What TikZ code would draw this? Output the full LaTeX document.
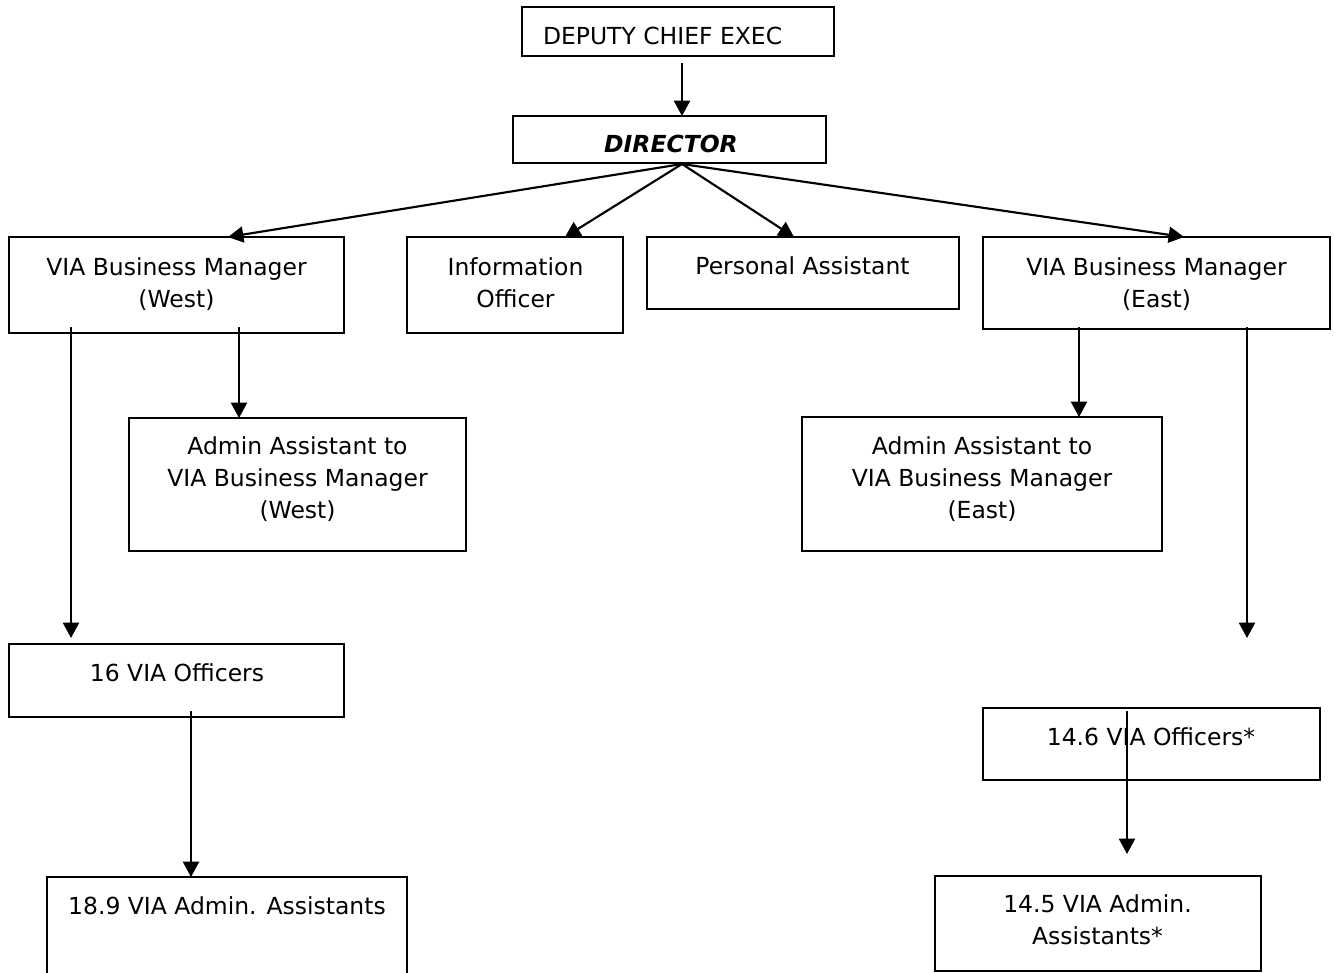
\documentclass[tikz,border=0pt]{standalone}
\usepackage{fontspec}
\setmainfont{DejaVu Sans}
\usetikzlibrary{arrows.meta,calc}
\newcommand\orgbox[5]{\node[box,minimum width={(#4-#2)*0.75pt},minimum height={(#5-#3)*0.75pt}] (#1) at ({(#2+#4)/2},{(#3+#5)/2}) {};}
\begin{document}
\begin{tikzpicture}[x=0.75pt,y=-0.75pt,
  box/.style={draw=black,line width=1.6pt,inner sep=0pt,outer sep=0pt,rectangle},
  txt/.style={inner sep=0pt,outer sep=0pt,align=center,anchor=base,font=\fontsize{17.6}{24}\selectfont},
  arr/.style={line width=1.6pt,-{Triangle[width=12pt,length=11.5pt]}}]
\useasboundingbox (0,0) rectangle (1334,972);
% boxes
\orgbox{dce}{522}{7}{834}{56}
\orgbox{dir}{513}{116}{826}{163}
\orgbox{wbm}{9}{237}{344}{333}
\orgbox{info}{407}{237}{623}{333}
\orgbox{pa}{647}{237}{959}{309}
\orgbox{ebm}{983}{237}{1330}{329}
\orgbox{waa}{129}{418}{466}{551}
\orgbox{eaa}{802}{417}{1162}{551}
\orgbox{wvo}{9}{644}{344}{717}
\orgbox{wva}{47}{877}{407}{985}
\orgbox{evo}{983}{708}{1320}{780}
\orgbox{eva}{935}{876}{1261}{971}
% texts (multi-line nodes are placed by the baseline of their last line)
\node[txt,anchor=base west] (dce-t) at (543,44.5) {DEPUTY CHIEF EXEC};
\node[txt] (dir-t) at (671,152.5) {\bfseries\itshape DIRECTOR};
\node[txt] (wbm-t) at (176.5,307.5) {VIA Business Manager\\(West)};
\node[txt] (info-t) at (515.5,307) {Information\\Officer};
\node[txt] (pa-t) at (802.5,274.5) {Personal Assistant};
\node[txt] (ebm-t) at (1156.5,307.5) {VIA Business Manager\\(East)};
\node[txt] (waa-t) at (297.5,518.5) {Admin Assistant to\\VIA Business Manager\\(West)};
\node[txt] (eaa-t) at (982,518.5) {Admin Assistant to\\VIA Business Manager\\(East)};
\node[txt] (wvo-t) at (177,681.5) {16 VIA Officers};
\node[txt] (wva-t) at (227,914) {18.9 VIA Admin. Assistants};
\node[txt] (evo-t) at (1151,745) {14.6 VIA Officers*};
\node[txt] (eva-t) at (1097.5,944) {14.5 VIA Admin.\\Assistants*};
% connector points
\coordinate (dtop) at (682,63);
\coordinate (apex) at (682,164);
\coordinate (wl1) at (71,327);
\coordinate (wl2) at (71,638);
\coordinate (wr1) at (239,327);
\coordinate (el1) at (1079,327);
\coordinate (er1) at (1247,327);
\coordinate (er2) at (1247,638);
\coordinate (wv1) at (191,711);
\coordinate (ev1) at (1127,711);
\coordinate (ev2) at (1127,854);
% connectors
\draw[arr] (dtop) -- (dtop |- dir.north);
\draw[arr] (apex) -- ($(wbm.north)+(51.5,0)$);
\draw[arr] (apex) -- ($(info.north)+(50,0)$);
\draw[arr] (apex) -- ($(pa.north)+(-9,0)$);
\draw[arr] (apex) -- ($(ebm.north)+(27.5,0)$);
\draw[arr] (wl1) -- (wl2);
\draw[arr] (wr1) -- (wr1 |- waa.north);
\draw[arr] (el1) -- (el1 |- eaa.north);
\draw[arr] (er1) -- (er2);
\draw[arr] (wv1) -- (wv1 |- wva.north);
\draw[arr] (ev1) -- (ev2);
\end{tikzpicture}
\end{document}
